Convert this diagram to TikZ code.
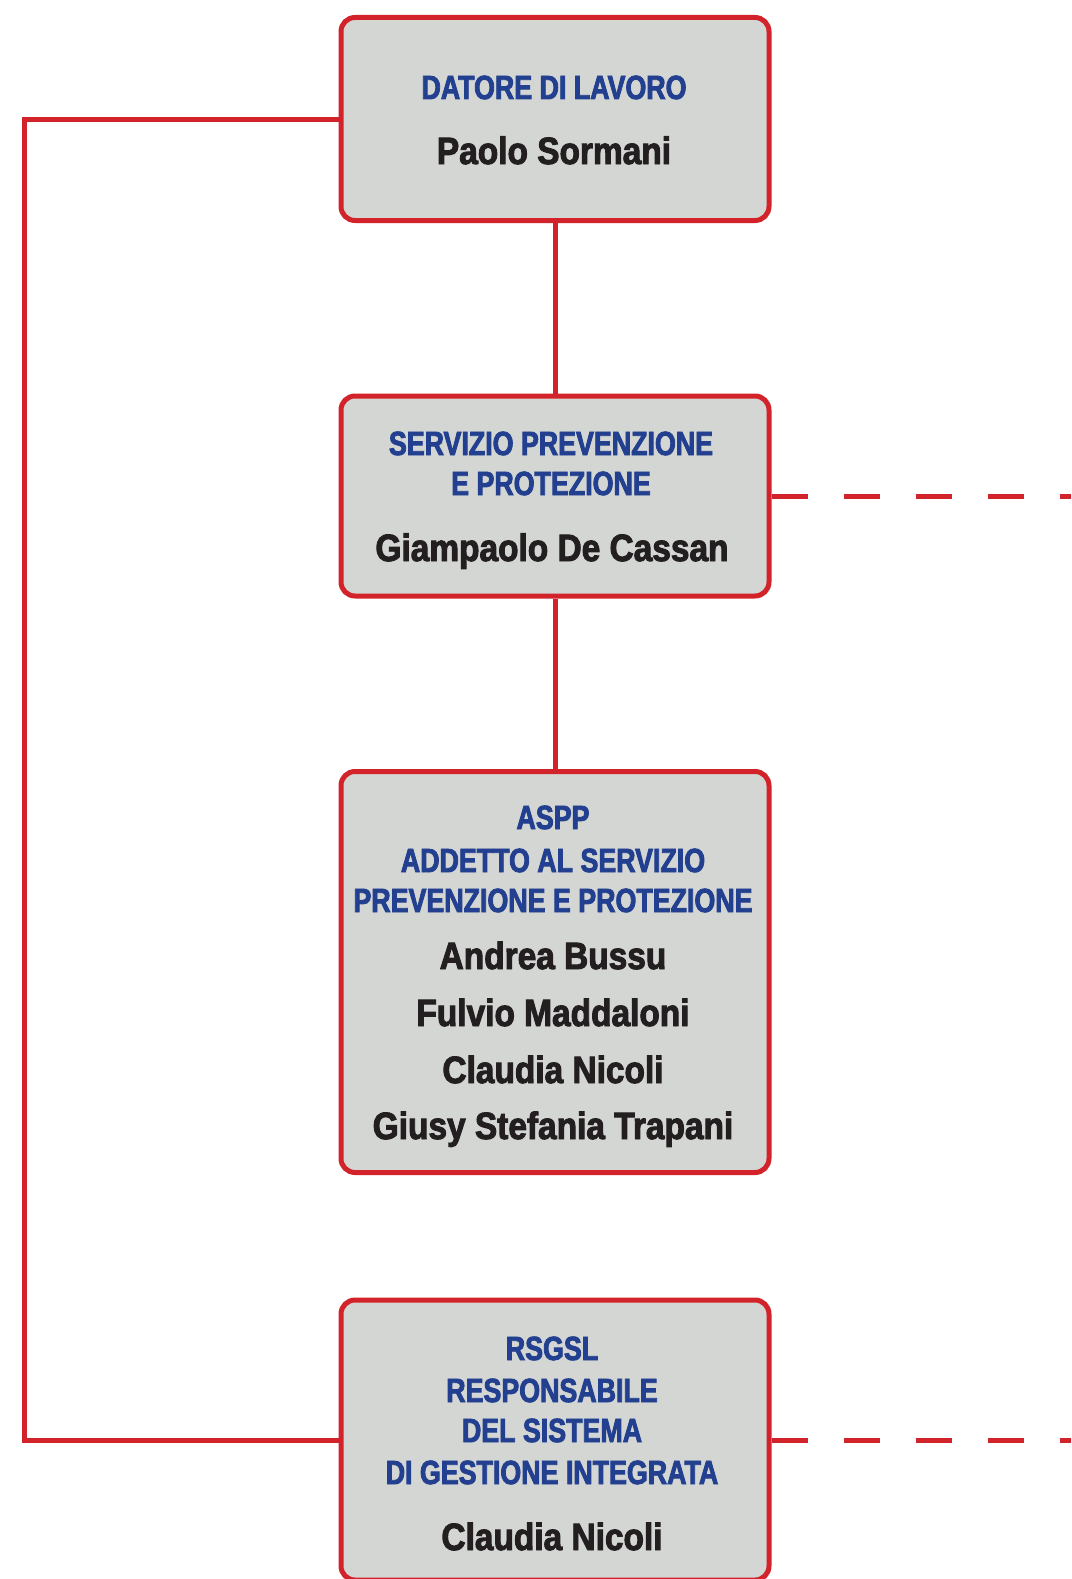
\documentclass[tikz,border=0pt]{standalone}
\usepackage{fontspec}
\newfontfamily\titlefont{Liberation Sans}[FakeStretch=0.8,FakeBold=2.5]
\newfontfamily\namefont{Liberation Sans}[FakeStretch=0.88,FakeBold=2.5]
\definecolor{redc}{HTML}{D2232A}
\definecolor{boxgray}{HTML}{D4D6D3}
\definecolor{bluec}{HTML}{22408F}
\definecolor{blackc}{HTML}{231F20}
\tikzset{
  box/.style={draw=redc, line width=5pt, fill=boxgray, rounded corners=14pt,
    minimum width=428pt, inner sep=0pt},
  ttl/.style={anchor=base, text=bluec, font=\titlefont\bfseries\fontsize{33.5}{36}\selectfont, inner sep=0pt},
  nm/.style={anchor=base, text=blackc, font=\namefont\bfseries\fontsize{38}{40}\selectfont, inner sep=0pt},
  wire/.style={draw=redc, line width=5pt},
  dwire/.style={draw=redc, line width=5pt, dash pattern=on 36pt off 36pt}
}
\begin{document}
\begin{tikzpicture}[x=1pt,y=-1pt]
\useasboundingbox (0,0) rectangle (1071,1579);
% boxes
\node[box, minimum height=203pt] (b1) at (555,119) {};
\node[box, minimum height=200pt] (b2) at (555,496) {};
\node[box, minimum height=401pt] (b3) at (555,972) {};
\node[box, minimum height=280pt] (b4) at (555,1440) {};
\coordinate (lt) at (24,119);
\coordinate (lb) at (24,1440);
\coordinate (r2) at (1071,496);
\coordinate (r4) at (1071,1440);
% connectors
\draw[wire] (b1.south) -- (b2.north);
\draw[wire] (b2.south) -- (b3.north);
\draw[wire, line join=miter] (b1.west) -- (lt) -- (lb) -- (b4.west);
\draw[dwire] (b2.east) -- (r2);
\draw[dwire] (b4.east) -- (r4);
% texts
\node[ttl] (t1a) at (554,99) {DATORE DI LAVORO};
\node[nm] (t1b) at (554,164) {Paolo Sormani};
\node[ttl] (t2a) at (551,455) {SERVIZIO PREVENZIONE};
\node[ttl] (t2b) at (551,495) {E PROTEZIONE};
\node[nm] (t2c) at (552,561) {Giampaolo De Cassan};
\node[ttl] (t3a) at (553,829) {ASPP};
\node[ttl] (t3b) at (553,872) {ADDETTO AL SERVIZIO};
\node[ttl] (t3c) at (553,912) {PREVENZIONE E PROTEZIONE};
\node[nm] (t3d) at (553,969) {Andrea Bussu};
\node[nm] (t3e) at (553,1026) {Fulvio Maddaloni};
\node[nm] (t3f) at (553,1083) {Claudia Nicoli};
\node[nm] (t3g) at (553,1139) {Giusy Stefania Trapani};
\node[ttl] (t4a) at (552,1360) {RSGSL};
\node[ttl] (t4b) at (552,1402) {RESPONSABILE};
\node[ttl] (t4c) at (552,1442) {DEL SISTEMA};
\node[ttl] (t4d) at (552,1484) {DI GESTIONE INTEGRATA};
\node[nm] (t4e) at (552,1550) {Claudia Nicoli};
\end{tikzpicture}
\end{document}
